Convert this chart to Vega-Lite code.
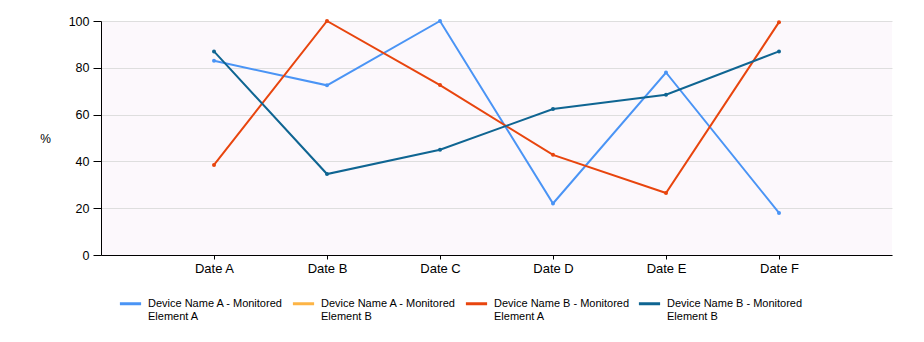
{
  "$schema": "https://vega.github.io/schema/vega-lite/v6.json",
  "width": 791,
  "height": 234,
  "autosize": {"type": "none"},
  "padding": {"left": 101, "top": 21, "right": 32, "bottom": 87},
  "background": "white",
  "config": {
    "font": "Liberation Sans",
    "view": {"fill": "#fcf8fc", "stroke": null}
  },
  "data": {
    "values": [
      {"date": "Date A", "series": "Device Name A - Monitored|Element A", "value": 83},
      {"date": "Date B", "series": "Device Name A - Monitored|Element A", "value": 72.5},
      {"date": "Date C", "series": "Device Name A - Monitored|Element A", "value": 100},
      {"date": "Date D", "series": "Device Name A - Monitored|Element A", "value": 22},
      {"date": "Date E", "series": "Device Name A - Monitored|Element A", "value": 78},
      {"date": "Date F", "series": "Device Name A - Monitored|Element A", "value": 18},
      {"date": "Date A", "series": "Device Name B - Monitored|Element A", "value": 38.5},
      {"date": "Date B", "series": "Device Name B - Monitored|Element A", "value": 100},
      {"date": "Date C", "series": "Device Name B - Monitored|Element A", "value": 72.6},
      {"date": "Date D", "series": "Device Name B - Monitored|Element A", "value": 42.8},
      {"date": "Date E", "series": "Device Name B - Monitored|Element A", "value": 26.5},
      {"date": "Date F", "series": "Device Name B - Monitored|Element A", "value": 99.5},
      {"date": "Date A", "series": "Device Name B - Monitored|Element B", "value": 87},
      {"date": "Date B", "series": "Device Name B - Monitored|Element B", "value": 34.6},
      {"date": "Date C", "series": "Device Name B - Monitored|Element B", "value": 45},
      {"date": "Date D", "series": "Device Name B - Monitored|Element B", "value": 62.4},
      {"date": "Date E", "series": "Device Name B - Monitored|Element B", "value": 68.5},
      {"date": "Date F", "series": "Device Name B - Monitored|Element B", "value": 87}
    ]
  },
  "mark": {"type": "line", "strokeWidth": 2, "point": {"filled": true, "size": 16}},
  "encoding": {
    "x": {
      "field": "date",
      "type": "ordinal",
      "scale": {"type": "point", "padding": 1},
      "axis": {
        "title": null,
        "labelAngle": 0,
        "labelFontSize": 13,
        "labelColor": "#000",
        "labelPadding": 3,
        "domainColor": "#000",
        "tickColor": "#000",
        "tickSize": 4,
        "grid": false
      }
    },
    "y": {
      "field": "value",
      "type": "quantitative",
      "scale": {"domain": [0, 100], "nice": false},
      "axis": {
        "title": "%",
        "titleAngle": 0,
        "titleX": -56,
        "titleY": 117,
        "titleAlign": "center",
        "titleBaseline": "middle",
        "titleFontSize": 12,
        "titleFontWeight": "normal",
        "titleColor": "#000",
        "values": [0, 20, 40, 60, 80, 100],
        "labelFontSize": 12.5,
        "labelColor": "#000",
        "labelPadding": 4,
        "tickSize": 8,
        "tickColor": "#000",
        "domainColor": "#000",
        "gridColor": "#dedede"
      }
    },
    "color": {
      "field": "series",
      "type": "nominal",
      "scale": {
        "domain": [
          "Device Name A - Monitored|Element A",
          "Device Name A - Monitored|Element B",
          "Device Name B - Monitored|Element A",
          "Device Name B - Monitored|Element B"
        ],
        "range": ["#4a94f5", "#fdb445", "#e8450e", "#0f6592"]
      },
      "legend": {
        "title": null,
        "orient": "none",
        "legendX": 17,
        "legendY": 270,
        "direction": "horizontal",
        "columns": 4,
        "gridAlign": "all",
        "symbolType": "stroke",
        "symbolSize": 450,
        "symbolStrokeWidth": 3,
        "symbolOffset": 0,
        "labelExpr": "split(datum.label, '|')",
        "labelFontSize": 11,
        "labelColor": "#000",
        "labelLimit": 200,
        "labelOffset": 5,
        "columnPadding": 2
      }
    }
  }
}
